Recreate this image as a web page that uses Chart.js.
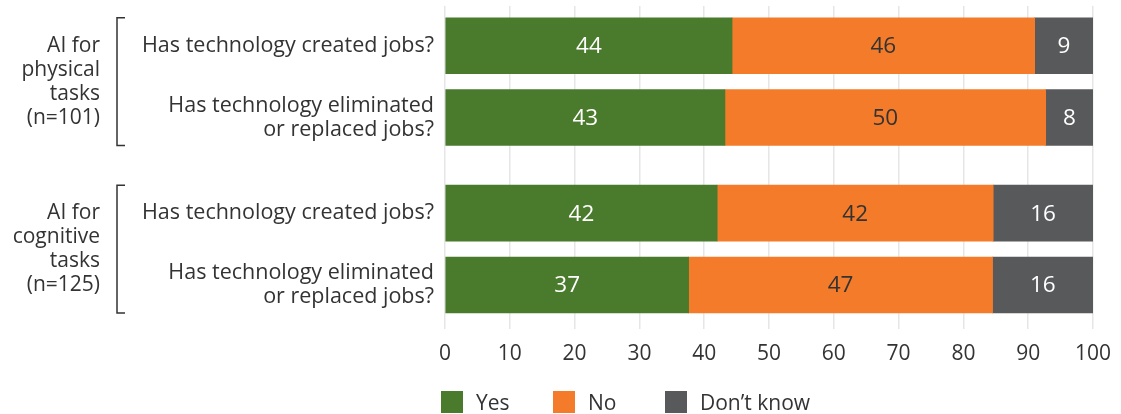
<!DOCTYPE html>
<html>
<head>
<meta charset="utf-8">
<script src="https://cdn.jsdelivr.net/npm/chart.js@4"></script>
<style>
  body { margin: 0; background: #fff; }
  #wrap { position: relative; width: 1121px; height: 414px; }
  #legend {
    position: absolute; left: 441px; top: 388px;
    display: flex; font: 21px "Open Sans", sans-serif; color: #333;
  }
  .item { display: flex; align-items: center; min-width: 112px; }
  .box { width: 22px; height: 22px; margin-right: 13px; }
</style>
</head>
<body>
<div id="wrap">
  <canvas id="chart" width="1121" height="414"></canvas>
  <div id="legend"></div>
</div>
<script>
const rowPositions = [0, 3, 7, 10]
const questions = [
  ["Has technology created jobs?"],
  ["Has technology eliminated", "or replaced jobs?"],
  ["Has technology created jobs?"],
  ["Has technology eliminated", "or replaced jobs?"],
]
const groupLabels = [
  ["AI for", "physical", "tasks", "(n=101)"],
  ["AI for", "cognitive", "tasks", "(n=125)"],
]
const groupRows = [[0, 1], [2, 3]]

const seriesNames = ["Yes", "No", "Don’t know"]
const yesValues = [44.3, 43.2, 42.0, 37.6]
const noValues = [46.7, 49.5, 42.6, 46.9]
const dontKnowValues = [9.0, 7.3, 15.4, 15.5]
const yesLabels = [44, 43, 42, 37]
const noLabels = [46, 50, 42, 47]
const dontKnowLabels = [9, 8, 16, 16]
const xTicks = [0, 10, 20, 30, 40, 50, 60, 70, 80, 90, 100]

const colors = ["#4a7b2d", "#f47b2a", "#58595b"]
const labelColors = ["#ffffff", "#333333", "#ffffff"]
const font = "'Open Sans', sans-serif"
const textColor = "#333333"

const toPoints = values => values.map((v, i) => ({ x: v, y: rowPositions[i] }))

const valueLabels = [yesLabels, noLabels, dontKnowLabels]

const barLabelsPlugin = {
  id: "barLabels",
  afterDatasetsDraw(chart) {
    const { ctx } = chart
    ctx.save()
    ctx.font = `22.5px ${font}`
    ctx.textAlign = "center"
    ctx.textBaseline = "middle"
    chart.data.datasets.forEach((ds, di) => {
      chart.getDatasetMeta(di).data.forEach((bar, i) => {
        const { x, y } = bar.getCenterPoint()
        ctx.fillStyle = labelColors[di]
        ctx.fillText(String(valueLabels[di][i]), x, y + 1)
      })
    })
    ctx.restore()
  },
}

const groupBracketPlugin = {
  id: "groupBrackets",
  afterDraw(chart) {
    const { ctx } = chart
    const yScale = chart.scales.y
    const half = 28
    ctx.save()
    ctx.strokeStyle = textColor
    ctx.lineWidth = 1.5
    ctx.fillStyle = textColor
    ctx.font = `21px ${font}`
    ctx.textAlign = "right"
    ctx.textBaseline = "middle"
    groupRows.forEach((rows, g) => {
      const top = yScale.getPixelForValue(rowPositions[rows[0]]) - half
      const bottom = yScale.getPixelForValue(rowPositions[rows[rows.length - 1]]) + half
      ctx.beginPath()
      ctx.moveTo(125, top)
      ctx.lineTo(117, top)
      ctx.lineTo(117, bottom)
      ctx.lineTo(125, bottom)
      ctx.stroke()
      const lines = groupLabels[g]
      const mid = (top + bottom) / 2
      const lh = 24
      lines.forEach((line, i) => {
        ctx.fillText(line, 100, mid + (i - (lines.length - 1) / 2) * lh)
      })
    })
    ctx.restore()
  },
}

const chart = new Chart(document.getElementById("chart"), {
  type: "bar",
  data: {
    datasets: [yesValues, noValues, dontKnowValues].map((values, i) => ({
      label: seriesNames[i],
      data: toPoints(values),
      backgroundColor: colors[i],
      borderWidth: 0,
      barThickness: 56,
    })),
  },
  options: {
    indexAxis: "y",
    responsive: false,
    animation: false,
    layout: { padding: { top: 6, right: 28, bottom: 48, left: 0 } },
    scales: {
      x: {
        type: "linear",
        stacked: true,
        min: 0,
        max: 100,
        afterBuildTicks: scale => { scale.ticks = xTicks.map(v => ({ value: v })) },
        afterFit: scale => {
          scale.height = 37
          scale.paddingLeft = 0
          scale.paddingRight = 0
        },
        border: { display: false },
        grid: { color: "#e6e6e6", lineWidth: 1.5, drawTicks: false },
        ticks: { color: textColor, font: { family: font, size: 21 }, padding: 12 },
      },
      y: {
        type: "linear",
        stacked: true,
        reverse: true,
        offset: false,
        min: -1.66,
        max: 11.84,
        afterBuildTicks: scale => { scale.ticks = rowPositions.map(v => ({ value: v })) },
        afterFit: scale => {
          scale.width = 445
          scale.paddingTop = 0
          scale.paddingBottom = 0
        },
        border: { display: false },
        grid: { display: false, drawTicks: false },
        ticks: {
          color: textColor,
          font: { family: font, size: 21.5, lineHeight: 1.12 },
          padding: 11,
          callback: (value, index) => questions[index],
        },
      },
    },
    plugins: {
      legend: { display: false },
      tooltip: { enabled: false },
    },
  },
  plugins: [barLabelsPlugin, groupBracketPlugin],
})

const legendEl = document.getElementById("legend")
chart.data.datasets.forEach(ds => {
  const item = document.createElement("div")
  item.className = "item"
  const box = document.createElement("span")
  box.className = "box"
  box.style.background = ds.backgroundColor
  item.appendChild(box)
  item.appendChild(document.createTextNode(ds.label))
  legendEl.appendChild(item)
})
</script>
</body>
</html>
